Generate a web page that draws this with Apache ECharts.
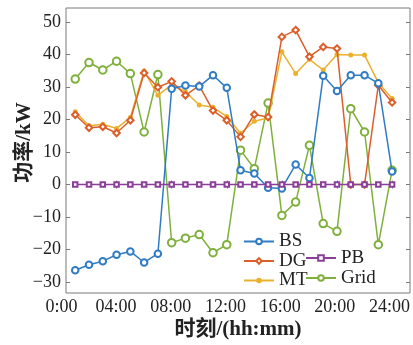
<!DOCTYPE html>
<html>
<head>
<meta charset="utf-8">
<script src="https://cdn.jsdelivr.net/npm/echarts@6/dist/echarts.min.js"></script>
<style>
    html, body { margin: 0; padding: 0; background: #fff; }
    #main { width: 413px; height: 345px; }
</style>
</head>
<body>
<div id="main"></div>
<script>
var hours = [1, 2, 3, 4, 5, 6, 7, 8, 9, 10, 11, 12, 13, 14, 15, 16, 17, 18, 19, 20, 21, 22, 23, 24];
var xTicks = [4, 8, 12, 16, 20, 24];
var xLabels = [0, 4, 8, 12, 16, 20, 24];
var yTicks = [-30, -20, -10, 0, 10, 20, 30, 40, 50];

var BS = [-26.4, -24.7, -23.6, -21.6, -20.6, -24.0, -21.3, 29.5, 30.5, 30.2, 33.7, 29.8,
    4.4, 3.4, -1.0, -1.2, 6.2, 2.0, 33.5, 28.8, 33.7, 33.7, 31.2, 4.0];
var DG = [21.5, 17.5, 17.8, 15.9, 19.8, 34.4, 30.0, 31.8, 27.5, 30.5, 22.8, 19.8,
    14.7, 21.6, 20.8, 45.5, 47.6, 39.4, 42.4, 41.9, 0, 0, 30.6, 25.3];
var MT = [22.4, 18.1, 18.6, 17.3, 20.7, 35.0, 27.5, 30.8, 28.6, 24.5, 23.8, 21.0,
    15.8, 19.5, 20.5, 40.9, 34.2, 38.6, 35.3, 40.1, 39.9, 39.9, 31.4, 26.5];
var PB = [0, 0, 0, 0, 0, 0, 0, 0, 0, 0, 0, 0, 0, 0, 0, 0, 0, 0, 0, 0, 0, 0, 0, 0];
var Grid = [32.5, 37.6, 35.3, 38.0, 34.2, 16.2, 33.9, -17.9, -16.5, -15.4, -21.0, -18.5,
    10.6, 4.9, 25.1, -9.5, -5.4, 12.1, -12.0, -14.4, 23.4, 16.2, -18.5, 4.4];

var serif = "'Liberation Serif', 'Noto Sans CJK SC', serif";
var textColor = '#222';
var frameColor = '#7a7a7a';

function pairs(arr) {
    return hours.map(function (h, i) { return [h, arr[i]]; });
}

function hm(v) {
    if (v == 0) return '0:00';
    return (v < 10 ? '0' : '') + v + ':00';
}

function lineSeries(name, data, color, symbol, size, z) {
    return {
        name: name,
        type: 'line',
        xAxisIndex: 0,
        yAxisIndex: 0,
        data: pairs(data),
        symbol: symbol,
        symbolSize: size,
        showAllSymbol: true,
        z: z,
        color: color,
        lineStyle: { width: 1.5, color: color },
        itemStyle: { color: color, borderWidth: 1.3 },
        emphasis: { disabled: true }
    };
}

var tickStyle = { inside: true, length: 4, lineStyle: { color: frameColor } };

var myChart = echarts.init(document.getElementById('main'));
var option = {
    animation: false,
    backgroundColor: '#fff',
    grid: [
        { left: 66, top: 8, width: 344, height: 285, show: true, borderColor: frameColor, borderWidth: 1 },
        { left: 61.4, top: 8, width: 348.6, height: 285 }
    ],
    legend: [
        {
            data: ['BS', 'DG', 'MT'],
            orient: 'vertical',
            left: 238, top: 227,
            itemWidth: 30, itemHeight: 7, itemGap: 0.5,
            textStyle: { fontFamily: serif, fontSize: 19, color: textColor, lineHeight: 19 }
        },
        {
            data: ['PB', 'Grid'],
            orient: 'vertical',
            left: 300, top: 243.5,
            itemWidth: 30, itemHeight: 7, itemGap: 1,
            textStyle: { fontFamily: serif, fontSize: 19, color: textColor, lineHeight: 19 }
        }
    ],
    xAxis: [
        {
            gridIndex: 0, type: 'value', min: 0.33, max: 25.3, position: 'bottom',
            axisLine: { show: false },
            axisTick: Object.assign({ customValues: xTicks }, tickStyle),
            axisLabel: { show: false },
            splitLine: { show: false },
            name: '时刻/(hh:mm)', nameLocation: 'middle', nameGap: 26, nameMoveOverlap: false,
            nameTextStyle: { fontFamily: serif, fontSize: 21, fontWeight: 'bold', color: textColor }
        },
        {
            gridIndex: 0, type: 'value', min: 0.33, max: 25.3, position: 'top',
            axisLine: { show: false },
            axisTick: Object.assign({ customValues: xTicks }, tickStyle),
            axisLabel: { show: false },
            splitLine: { show: false }
        },
        {
            // 只用来放横轴刻度文字，0:00 落在边框外面
            gridIndex: 1, type: 'value', min: 0, max: 25.3,
            axisLine: { show: false },
            axisTick: { show: false },
            axisLabel: { customValues: xLabels, formatter: hm, margin: 5, fontFamily: serif, fontSize: 18, color: textColor },
            splitLine: { show: false }
        }
    ],
    yAxis: [
        {
            gridIndex: 0, type: 'value', min: -33.4, max: 54.4, position: 'left',
            axisLine: { show: false },
            axisTick: Object.assign({ customValues: yTicks }, tickStyle),
            axisLabel: {
                customValues: yTicks, margin: 5, fontFamily: serif, fontSize: 18, color: textColor,
                formatter: function (v) { return String(v).replace('-', '\u2212'); }
            },
            splitLine: { show: false },
            name: '功率/kW', nameLocation: 'middle', nameGap: 31, nameRotate: 90, nameMoveOverlap: false,
            nameTextStyle: { fontFamily: serif, fontSize: 21, fontWeight: 'bold', color: textColor, padding: [0, 0, 0, 16] }
        },
        {
            gridIndex: 0, type: 'value', min: -33.4, max: 54.4, position: 'right',
            axisLine: { show: false },
            axisTick: Object.assign({ customValues: yTicks }, tickStyle),
            axisLabel: { show: false },
            splitLine: { show: false }
        },
        { gridIndex: 1, type: 'value', min: 0, max: 1, show: false }
    ],
    series: [
        lineSeries('BS', BS, '#2f7cc4', 'emptyCircle', 6.5, 5),
        lineSeries('DG', DG, '#da5f2a', 'emptyDiamond', 6.5, 4),
        lineSeries('MT', MT, '#e9b12e', 'circle', 5, 3),
        lineSeries('PB', PB, '#8a3f98', 'emptyRect', 4.5, 6),
        lineSeries('Grid', Grid, '#7fb03c', 'emptyCircle', 7.5, 2)
    ]
};
if (option && typeof option === "object") {
    myChart.setOption(option, true);
}
</script>
</body>
</html>
